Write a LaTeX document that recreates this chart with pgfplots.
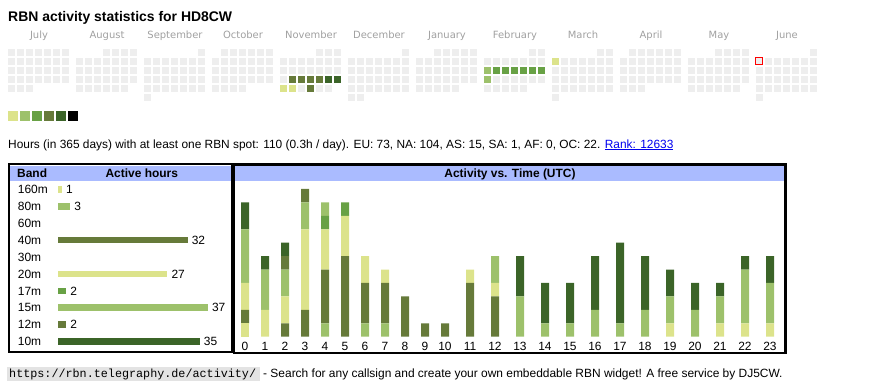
\documentclass[border=0pt]{standalone}
\usepackage{fontspec}
\setmainfont{Liberation Sans}
\setmonofont{Liberation Mono}
\newfontfamily\dejavu{DejaVu Sans}
\usepackage{pgfplots}
\pgfplotsset{compat=1.18}
\usepackage{pgfplotstable}

\definecolor{cY}{HTML}{DCE38B}
\definecolor{cLG}{HTML}{9DC16B}
\definecolor{cG}{HTML}{68A145}
\definecolor{cO}{HTML}{667A3A}
\definecolor{cD}{HTML}{3B6428}
\definecolor{cellgray}{HTML}{EEEEEE}
\definecolor{hdrblue}{HTML}{AABBFF}
\definecolor{monthgray}{HTML}{A0A0A0}
\definecolor{linkblue}{HTML}{0000EE}
\definecolor{codegray}{HTML}{E3E3E3}

\pgfdeclareplotmark{cell}{\pgfpathrectangle{\pgfpoint{-3.25bp}{-3.25bp}}{\pgfpoint{6.5bp}{6.5bp}}\pgfusepathqfill}
\pgfdeclareplotmark{legcell}{\pgfpathrectangle{\pgfpoint{-5bp}{-5bp}}{\pgfpoint{10bp}{10bp}}\pgfusepathqfill}
\pgfdeclareplotmark{today}{\pgfpathrectangle{\pgfpoint{-3.4bp}{-3.4bp}}{\pgfpoint{6.8bp}{6.8bp}}\pgfusepathqfillstroke}

% hours per UTC hour, stacked by band (x = bar position in px)
\pgfplotstableread{
x   hour b160 b80 b40 b20 b17 b15 b12 b10
245 0    1    0   1   2   0   4   0   2
265 1    0    0   0   2   0   3   0   1
285 2    0    0   1   2   0   2   1   1
305 3    0    0   2   6   0   2   1   0
325 4    0    1   4   3   1   1   0   0
345 5    0    0   6   3   1   0   0   0
365 6    0    1   3   2   0   0   0   0
385 7    0    1   3   1   0   0   0   0
405 8    0    0   3   0   0   0   0   0
425 9    0    0   1   0   0   0   0   0
445 10   0    0   1   0   0   0   0   0
470 11   0    0   4   1   0   0   0   0
495 12   0    0   3   1   0   2   0   0
520 13   0    0   0   0   0   3   0   3
545 14   0    0   0   0   0   1   0   3
570 15   0    0   0   0   0   1   0   3
595 16   0    0   0   0   0   2   0   4
620 17   0    0   0   0   0   1   0   6
645 18   0    0   0   0   0   2   0   4
670 19   0    0   0   1   0   2   0   2
695 20   0    0   0   0   0   2   0   2
720 21   0    0   0   1   0   2   0   1
745 22   0    0   0   1   0   4   0   1
770 23   0    0   0   1   0   3   0   2
}\hourdata

\newcommand\fs[1]{\fontsize{#1}{#1}\selectfont}

\begin{document}
\begin{tikzpicture}
% ---------- canvas (pixel coordinates, y downwards) ----------
\begin{axis}[at={(0bp,0bp)}, anchor=south west, scale only axis,
  width=870bp, height=390bp, xmin=0, xmax=870, ymin=0, ymax=390,
  y dir=reverse, hide axis, clip=false]

% calendar: empty day cells, one run per week row of each month
\addplot[draw=cellgray, line width=6.5bp, dash pattern=on 6.5bp off 2.5bp, unbounded coords=jump] coordinates {
(8,52.25)(68.5,52.25)(nan,nan) (8,61.25)(68.5,61.25)(nan,nan) (8,70.25)(68.5,70.25)(nan,nan) (8,79.25)(68.5,79.25)(nan,nan) (8,88.25)(32.5,88.25)(nan,nan)
(103,52.25)(136.5,52.25)(nan,nan) (76,61.25)(136.5,61.25)(nan,nan) (76,70.25)(136.5,70.25)(nan,nan) (76,79.25)(136.5,79.25)(nan,nan) (76,88.25)(127.5,88.25)(nan,nan)
(198,52.25)(204.5,52.25)(nan,nan) (144,61.25)(204.5,61.25)(nan,nan) (144,70.25)(204.5,70.25)(nan,nan) (144,79.25)(204.5,79.25)(nan,nan) (144,88.25)(204.5,88.25)(nan,nan) (144,97.25)(150.5,97.25)(nan,nan)
(221,52.25)(272.5,52.25)(nan,nan) (212,61.25)(272.5,61.25)(nan,nan) (212,70.25)(272.5,70.25)(nan,nan) (212,79.25)(272.5,79.25)(nan,nan) (212,88.25)(245.5,88.25)(nan,nan)
(316,52.25)(340.5,52.25)(nan,nan) (280,61.25)(340.5,61.25)(nan,nan) (280,70.25)(340.5,70.25)(nan,nan) (280,79.25)(340.5,79.25)(nan,nan) (280,88.25)(331.5,88.25)(nan,nan)
(402,52.25)(408.5,52.25)(nan,nan) (348,61.25)(408.5,61.25)(nan,nan) (348,70.25)(408.5,70.25)(nan,nan) (348,79.25)(408.5,79.25)(nan,nan) (348,88.25)(408.5,88.25)(nan,nan) (348,97.25)(363.5,97.25)(nan,nan)
(434,52.25)(476.5,52.25)(nan,nan) (416,61.25)(476.5,61.25)(nan,nan) (416,70.25)(476.5,70.25)(nan,nan) (416,79.25)(476.5,79.25)(nan,nan) (416,88.25)(458.5,88.25)(nan,nan)
(529,52.25)(544.5,52.25)(nan,nan) (484,61.25)(544.5,61.25)(nan,nan) (484,70.25)(544.5,70.25)(nan,nan) (484,79.25)(544.5,79.25)(nan,nan) (484,88.25)(526.5,88.25)(nan,nan)
(597,52.25)(612.5,52.25)(nan,nan) (552,61.25)(612.5,61.25)(nan,nan) (552,70.25)(612.5,70.25)(nan,nan) (552,79.25)(612.5,79.25)(nan,nan) (552,88.25)(612.5,88.25)(nan,nan) (552,97.25)(558.5,97.25)(nan,nan)
(629,52.25)(680.5,52.25)(nan,nan) (620,61.25)(680.5,61.25)(nan,nan) (620,70.25)(680.5,70.25)(nan,nan) (620,79.25)(680.5,79.25)(nan,nan) (620,88.25)(644.5,88.25)(nan,nan)
(715,52.25)(748.5,52.25)(nan,nan) (688,61.25)(748.5,61.25)(nan,nan) (688,70.25)(748.5,70.25)(nan,nan) (688,79.25)(748.5,79.25)(nan,nan) (688,88.25)(739.5,88.25)(nan,nan)
(810,52.25)(816.5,52.25)(nan,nan) (756,61.25)(816.5,61.25)(nan,nan) (756,70.25)(816.5,70.25)(nan,nan) (756,79.25)(816.5,79.25)(nan,nan) (756,88.25)(816.5,88.25)(nan,nan) (756,97.25)(762.5,97.25)
};
% active days
\addplot[only marks, mark=cell, color=cO] coordinates {(292.25,79.25)(301.25,79.25)(310.25,79.25)(319.25,79.25)(310.25,88.25)};
\addplot[only marks, mark=cell, color=cD] coordinates {(328.25,79.25)(337.25,79.25)};
\addplot[only marks, mark=cell, color=cY] coordinates {(283.25,88.25)(292.25,88.25)(555.25,61.25)};
\addplot[only marks, mark=cell, color=cLG] coordinates {(487.25,70.25)(487.25,79.25)};
\addplot[only marks, mark=cell, color=cG] coordinates {(496.25,70.25)(505.25,70.25)(514.25,70.25)(523.25,70.25)(532.25,70.25)(541.25,70.25)};
\addplot[only marks, mark=today, mark options={fill=cellgray, draw=red, line width=1.2bp}] coordinates {(759.25,61.25)};
% colour scale
\addplot[only marks, mark=legcell, color=cY] coordinates {(13,116)};
\addplot[only marks, mark=legcell, color=cLG] coordinates {(25,116)};
\addplot[only marks, mark=legcell, color=cG] coordinates {(37,116)};
\addplot[only marks, mark=legcell, color=cO] coordinates {(49,116)};
\addplot[only marks, mark=legcell, color=cD] coordinates {(61,116)};
\addplot[only marks, mark=legcell, color=black] coordinates {(73,116)};

% title and month names
\node[anchor=base west, inner sep=0pt, font=\bfseries\fs{14}] at (axis cs:8,21) {RBN activity statistics for HD8CW};
\node[anchor=base, inner sep=0pt, text=monthgray, font=\dejavu\fs{10}] at (axis cs:39,38.5) {July};
\node[anchor=base, inner sep=0pt, text=monthgray, font=\dejavu\fs{10}] at (axis cs:107,38.5) {August};
\node[anchor=base, inner sep=0pt, text=monthgray, font=\dejavu\fs{10}] at (axis cs:175,38.5) {September};
\node[anchor=base, inner sep=0pt, text=monthgray, font=\dejavu\fs{10}] at (axis cs:243,38.5) {October};
\node[anchor=base, inner sep=0pt, text=monthgray, font=\dejavu\fs{10}] at (axis cs:311,38.5) {November};
\node[anchor=base, inner sep=0pt, text=monthgray, font=\dejavu\fs{10}] at (axis cs:379,38.5) {December};
\node[anchor=base, inner sep=0pt, text=monthgray, font=\dejavu\fs{10}] at (axis cs:447,38.5) {January};
\node[anchor=base, inner sep=0pt, text=monthgray, font=\dejavu\fs{10}] at (axis cs:515,38.5) {February};
\node[anchor=base, inner sep=0pt, text=monthgray, font=\dejavu\fs{10}] at (axis cs:583,38.5) {March};
\node[anchor=base, inner sep=0pt, text=monthgray, font=\dejavu\fs{10}] at (axis cs:651,38.5) {April};
\node[anchor=base, inner sep=0pt, text=monthgray, font=\dejavu\fs{10}] at (axis cs:719,38.5) {May};
\node[anchor=base, inner sep=0pt, text=monthgray, font=\dejavu\fs{10}] at (axis cs:787,38.5) {June};

% summary line
\node[anchor=base west, inner sep=0pt, font=\fs{11.95}] at (axis cs:8,148) {Hours (in 365 days) with at least one RBN spot: 110 (0.3h / day). EU: 73, NA: 104, AS: 15, SA: 1, AF: 0, OC: 22. \textcolor{linkblue}{\underline{Rank: 12633}}};

% boxes
\fill[hdrblue] (axis cs:10.3,166.3) rectangle (axis cs:231,180.7);
\draw[line width=2bp] (axis cs:9.3,164.3) rectangle (axis cs:232,351.7);
\fill[hdrblue] (axis cs:235.3,166.3) rectangle (axis cs:784,180.7);
\draw[line width=2.5bp] (axis cs:234,164.3) rectangle (axis cs:785.3,353);
\node[anchor=base west, inner sep=0pt, font=\bfseries\fs{12}] at (axis cs:17,177) {Band};
\node[anchor=base, inner sep=0pt, font=\bfseries\fs{12}] at (axis cs:141.8,177) {Active hours};
\node[anchor=base, inner sep=0pt, font=\bfseries\fs{12}] at (axis cs:510,177) {Activity vs. Time (UTC)};

% footer
\fill[codegray] (axis cs:7,367) rectangle (axis cs:260,381);
\node[anchor=base west, inner sep=0pt, font=\ttfamily\fs{11.8}] at (axis cs:9,377.5) {https://rbn.telegraphy.de/activity/};
\node[anchor=base west, inner sep=0pt, font=\fs{12}] at (axis cs:263,377.5) {- Search for any callsign and create your own embeddable RBN widget! A free service by DJ5CW.};
\end{axis}

% ---------- active hours per band ----------
\begin{axis}[at={(58bp,0bp)}, anchor=south west, scale only axis,
  width=202.5bp, height=390bp, xmin=0, xmax=50, ymin=0, ymax=390, y dir=reverse,
  xbar, bar width=6.7bp, bar shift=0pt,
  axis line style={draw=none}, tick style={draw=none}, xtick=\empty,
  ytick={189.3,206.2,223.2,240.1,257.0,274.0,290.9,307.8,324.7,341.7},
  yticklabels={160m,80m,60m,40m,30m,20m,17m,15m,12m,10m},
  yticklabel style={anchor=west, inner sep=0pt, xshift=-36bp, font=\fs{12}},
  nodes near coords,
  every node near coord/.append style={anchor=west, inner sep=0pt, xshift=4bp, font=\fs{12}, text=black},
  /pgf/number format/assume math mode=true, clip=false]
\addplot[draw=none, fill=cY]  coordinates {(1,189.3)};
\addplot[draw=none, fill=cLG] coordinates {(3,206.2)};
\addplot[draw=none, fill=cO]  coordinates {(32,240.1)};
\addplot[draw=none, fill=cY]  coordinates {(27,274.0)};
\addplot[draw=none, fill=cG]  coordinates {(2,290.9)};
\addplot[draw=none, fill=cLG] coordinates {(37,307.8)};
\addplot[draw=none, fill=cO]  coordinates {(2,324.7)};
\addplot[draw=none, fill=cD]  coordinates {(35,341.7)};
\end{axis}

% ---------- activity vs. time ----------
\begin{axis}[at={(0bp,53.3bp)}, anchor=south west, scale only axis,
  width=870bp, height=161.16bp, xmin=0, xmax=870, ymin=0, ymax=12,
  ybar stacked, bar width=8bp,
  axis line style={draw=none}, tick style={draw=none}, ytick=\empty,
  xtick={245,265,285,305,325,345,365,385,405,425,445,470,495,520,545,570,595,620,645,670,695,720,745,770},
  xticklabels={0,1,2,3,4,5,6,7,8,9,10,11,12,13,14,15,16,17,18,19,20,21,22,23},
  xticklabel style={anchor=north, inner sep=0pt, yshift=-5.3bp, font=\fs{12}},
  clip=false]
\addplot[draw=none, fill=cY]  table[x=x, y=b160] {\hourdata};
\addplot[draw=none, fill=cLG] table[x=x, y=b80]  {\hourdata};
\addplot[draw=none, fill=cO]  table[x=x, y=b40]  {\hourdata};
\addplot[draw=none, fill=cY]  table[x=x, y=b20]  {\hourdata};
\addplot[draw=none, fill=cG]  table[x=x, y=b17]  {\hourdata};
\addplot[draw=none, fill=cLG] table[x=x, y=b15]  {\hourdata};
\addplot[draw=none, fill=cO]  table[x=x, y=b12]  {\hourdata};
\addplot[draw=none, fill=cD]  table[x=x, y=b10]  {\hourdata};
\end{axis}

\pgfresetboundingbox
\path[use as bounding box] (0bp,0bp) rectangle (870bp,390bp);
\end{tikzpicture}
\end{document}
